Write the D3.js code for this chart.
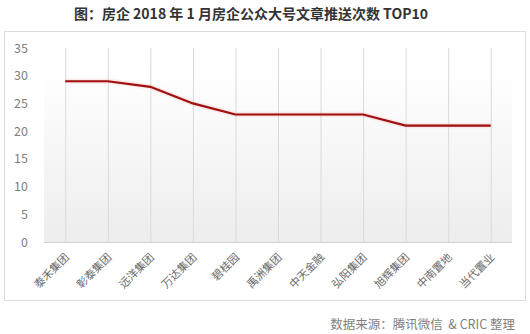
<!DOCTYPE html>
<html><head><meta charset="utf-8">
<script src="https://cdn.jsdelivr.net/npm/d3@7"></script>
<style>
html,body{margin:0;padding:0;background:#fff;}
svg{display:block;}
text{font-family:"Noto Sans CJK SC","Noto Sans",sans-serif;}
</style></head>
<body>
<svg id="c" width="530" height="334"></svg>
<script>
const categories = ["泰禾集团","彰泰集团","远洋集团","万达集团","碧桂园","禹洲集团","中天金融","弘阳集团","旭辉集团","中南置地","当代置业"];
const values = [29, 29, 28, 25, 23, 23, 23, 23, 21, 21, 21];
const yTicks = [0, 5, 10, 15, 20, 25, 30, 35];
const titleText = "图：房企 2018 年 1 月房企公众大号文章推送次数 TOP10";
const sourceText = "数据来源：腾讯微信 & CRIC 整理";

const svg = d3.select("#c");
const plot = {left: 44, right: 512, top: 48, bottom: 242};

const defs = svg.append("defs");
const grad = defs.append("linearGradient").attr("id","bg").attr("x1",0).attr("y1",0).attr("x2",0).attr("y2",1);
grad.append("stop").attr("offset","0%").attr("stop-color","#ffffff");
grad.append("stop").attr("offset","100%").attr("stop-color","#ededed");
const glow = defs.append("filter").attr("id","glow").attr("x","-5%").attr("y","-50%").attr("width","110%").attr("height","200%");
glow.append("feGaussianBlur").attr("stdDeviation",0.8);

// title
svg.append("text").attr("x",251).attr("y",19).attr("text-anchor","middle")
  .attr("font-size",14).attr("font-weight","bold").attr("fill","#333").text(titleText);

// frame
svg.append("rect").attr("x",4.5).attr("y",31.5).attr("width",521).attr("height",269)
  .attr("fill","#fff").attr("stroke","#dcdcdc");

// plot background
svg.append("rect").attr("x",plot.left).attr("y",plot.top+20).attr("width",plot.right-plot.left)
  .attr("height",plot.bottom-plot.top-20).attr("fill","url(#bg)");

const x = d3.scalePoint().domain(categories).range([plot.left, plot.right]).padding(0.5);
const y = d3.scaleLinear().domain([0,35]).range([plot.bottom, plot.top]);

// vertical gridlines
svg.append("g").selectAll("line").data(categories).join("line")
  .attr("x1",d=>x(d)+0.5).attr("x2",d=>x(d)+0.5)
  .attr("y1",y(35)).attr("y2",plot.bottom)
  .attr("stroke","#dadada").attr("stroke-width",1);

// x axis baseline
svg.append("line").attr("x1",plot.left).attr("x2",plot.right)
  .attr("y1",plot.bottom+0.5).attr("y2",plot.bottom+0.5).attr("stroke","#d0d0d0");

// y axis labels
const yAxis = d3.axisLeft(y).tickValues(yTicks).tickSize(0).tickPadding(0);
const gy = svg.append("g").attr("transform","translate(28,0)").call(yAxis);
gy.select(".domain").remove();
gy.selectAll("text").attr("font-size",12.5).attr("fill","#7f7f7f")
  .attr("font-family","'Noto Sans','Open Sans',sans-serif");

// x axis labels
const xAxis = d3.axisBottom(x).tickSize(0).tickPadding(0);
const gx = svg.append("g").attr("transform",`translate(0,${plot.bottom})`).call(xAxis);
gx.select(".domain").remove();
gx.selectAll("text")
  .attr("font-size",11).attr("fill","#6a6a6a")
  .attr("text-anchor","end").attr("dy",null).attr("y",null)
  .attr("transform","translate(4,16) rotate(-45)");

// line
const lineGen = d3.line().x((d,i)=>x(categories[i])).y(d=>y(d));
svg.append("path").datum(values).attr("d",lineGen)
  .attr("fill","none").attr("stroke","#f08080").attr("stroke-width",3)
  .attr("opacity",0.4).attr("filter","url(#glow)");
svg.append("path").datum(values).attr("d",lineGen)
  .attr("fill","none").attr("stroke","#a01010").attr("stroke-width",2.2);

// source
svg.append("text").attr("x",515).attr("y",329).attr("text-anchor","end")
  .attr("font-size",12.5).attr("fill","#7f7f7f").attr("xml:space","preserve").text(sourceText.replace(" &","  &"));
</script>
</body></html>
